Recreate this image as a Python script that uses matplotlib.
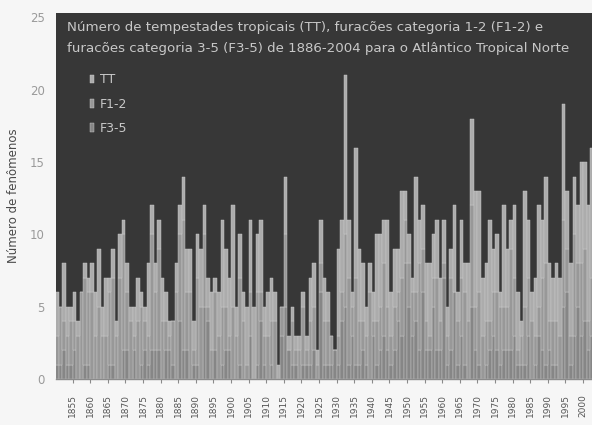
import numpy as np
import matplotlib.pyplot as plt

# anos 1851-2003
years = list(range(1851, 2004))

# total de fenomenos por ano (altura da barra)
total = [6, 5, 8, 5, 5, 6, 4, 6, 8, 7,      # 1851-1860
         8, 6, 9, 5, 7, 7, 9, 4, 10, 11,    # 1861-1870
         8, 5, 5, 7, 6, 5, 8, 12, 8, 11,    # 1871-1880
         7, 6, 4, 4, 8, 12, 14, 9, 9, 4,    # 1881-1890
         10, 9, 12, 7, 6, 7, 6, 11, 9, 7,   # 1891-1900
         12, 5, 10, 6, 5, 11, 5, 10, 11, 5, # 1901-1910
         6, 7, 6, 1, 5, 14, 3, 5, 3, 3,     # 1911-1920
         6, 3, 7, 8, 2, 11, 7, 6, 3, 2,     # 1921-1930
         9, 11, 21, 11, 6, 16, 9, 8, 5, 8,  # 1931-1940
         6, 10, 10, 11, 11, 6, 9, 9, 13, 13,  # 1941-1950
         10, 7, 14, 11, 12, 8, 8, 10, 11, 7,  # 1951-1960
         11, 5, 9, 12, 6, 11, 8, 8, 18, 13,   # 1961-1970
         13, 7, 8, 11, 9, 10, 6, 12, 9, 11,   # 1971-1980
         12, 6, 4, 13, 11, 6, 7, 12, 11, 14,  # 1981-1990
         8, 7, 8, 7, 19, 13, 8, 14, 12, 15,   # 1991-2000
         15, 12, 16]                          # 2001-2003

# furacoes (todas as categorias)
hurricanes = [3, 5, 4, 3, 4, 4, 3, 6, 7, 6,
              6, 3, 5, 3, 3, 6, 7, 3, 7, 10,
              6, 4, 3, 4, 5, 4, 3, 10, 6, 9,
              4, 4, 3, 4, 6, 10, 11, 6, 6, 2,
              7, 5, 10, 5, 2, 6, 3, 5, 5, 3,
              5, 3, 7, 4, 1, 6, 0, 6, 6, 3,
              3, 4, 4, 0, 5, 10, 2, 4, 2, 2,
              5, 2, 4, 5, 1, 8, 4, 4, 3, 2,
              3, 6, 10, 7, 5, 7, 4, 4, 3, 6,
              4, 4, 5, 8, 5, 3, 5, 6, 7, 11,
              8, 6, 6, 8, 9, 4, 3, 7, 7, 4,
              8, 3, 7, 6, 4, 7, 6, 4, 12, 5,
              6, 3, 4, 4, 6, 6, 5, 5, 5, 9,
              7, 2, 3, 5, 7, 4, 3, 5, 7, 8,
              4, 4, 4, 3, 11, 9, 3, 10, 8, 8,
              9, 4, 7]

# furacoes categoria 3-5
major = [1, 1, 2, 1, 1, 2, 0, 0, 1, 1,
         0, 0, 0, 0, 0, 1, 1, 0, 0, 2,
         2, 0, 2, 0, 1, 2, 1, 2, 2, 2,
         0, 2, 2, 1, 0, 4, 2, 2, 0, 1,
         1, 0, 5, 4, 0, 2, 0, 1, 2, 2,
         0, 0, 1, 0, 0, 3, 0, 1, 4, 1,
         0, 1, 0, 0, 3, 5, 2, 1, 1, 0,
         1, 1, 1, 2, 0, 6, 1, 1, 1, 2,
         1, 4, 5, 1, 3, 1, 1, 2, 1, 0,
         3, 1, 2, 3, 2, 1, 2, 4, 3, 8,
         5, 3, 4, 2, 6, 2, 2, 5, 2, 2,
         7, 1, 2, 6, 1, 3, 1, 0, 5, 2,
         1, 0, 1, 2, 3, 2, 1, 2, 2, 2,
         3, 1, 1, 1, 3, 0, 1, 3, 2, 1,
         2, 1, 1, 0, 5, 6, 1, 3, 5, 3,
         4, 2, 3]

series_names = ['TT', 'F1-2', 'F3-5']
tick_years = list(range(1855, 2001, 5))

years = np.array(years)
total = np.array(total)
hurricanes = np.array(hurricanes)
major = np.array(major)
f35 = major
f12 = hurricanes - major
tt = total - hurricanes

bg = '#373737'
col_tt = '#acacac'
col_f12 = '#989898'
col_f35 = '#868686'
edge = '#cdcdcd'

fig = plt.figure(figsize=(5.92, 4.25), dpi=100, facecolor='#f6f6f6')
ax = fig.add_axes([56 / 592, 1 - 379 / 425, 536 / 592, 366 / 425])
ax.set_facecolor(bg)

b3 = ax.bar(years, f35, width=1.0, color=col_f35, edgecolor=edge, linewidth=0.3, label=series_names[2])
b2 = ax.bar(years, f12, width=1.0, bottom=f35, color=col_f12, edgecolor=edge, linewidth=0.3, label=series_names[1])
b1 = ax.bar(years, tt, width=1.0, bottom=f35 + f12, color=col_tt, edgecolor=edge, linewidth=0.3, label=series_names[0])

ax.set_xlim(1850.76, 2003.03)
ax.set_ylim(0, 25.31)

ax.set_yticks(range(0, 26, 5))
ax.tick_params(axis='y', length=0, pad=8, labelsize=8.5, labelcolor='#9a9a9a')
# marcas entre categorias, como no original
ax.set_xticks(np.array(tick_years) + 0.5)
ax.set_xticklabels([str(y) for y in tick_years], rotation=90)
ax.tick_params(axis='x', length=3, width=0.8, color='#8a8a8a', pad=8,
               labelsize=6.5, labelcolor='#555555')

for s in ['top', 'right', 'left']:
    ax.spines[s].set_visible(False)
ax.spines['bottom'].set_color('#8a8a8a')
ax.spines['bottom'].set_linewidth(1)

ax.set_ylabel('Número de fenômenos', fontsize=8.5, color='#4a4a4a')
ax.yaxis.set_label_coords(-0.067, 0.5)

ax.text(0.0205, 0.978, 'Número de tempestades tropicais (TT), furacões categoria 1-2 (F1-2) e',
        transform=ax.transAxes, va='top', ha='left', fontsize=9.6, color='#c8c8c8')
ax.text(0.0205, 0.921, 'furacões categoria 3-5 (F3-5) de 1886-2004 para o Atlântico Tropical Norte',
        transform=ax.transAxes, va='top', ha='left', fontsize=9.6, color='#c8c8c8')

leg = ax.legend(handles=[b1, b2, b3], loc='upper left', bbox_to_anchor=(0.063, 0.835),
                frameon=False, fontsize=9, labelcolor='#c8c8c8',
                handlelength=0.3, handleheight=0.7, handletextpad=0.5,
                labelspacing=0.91, borderpad=0, borderaxespad=0)

fig.savefig('out.png', dpi=100, facecolor=fig.get_facecolor())
